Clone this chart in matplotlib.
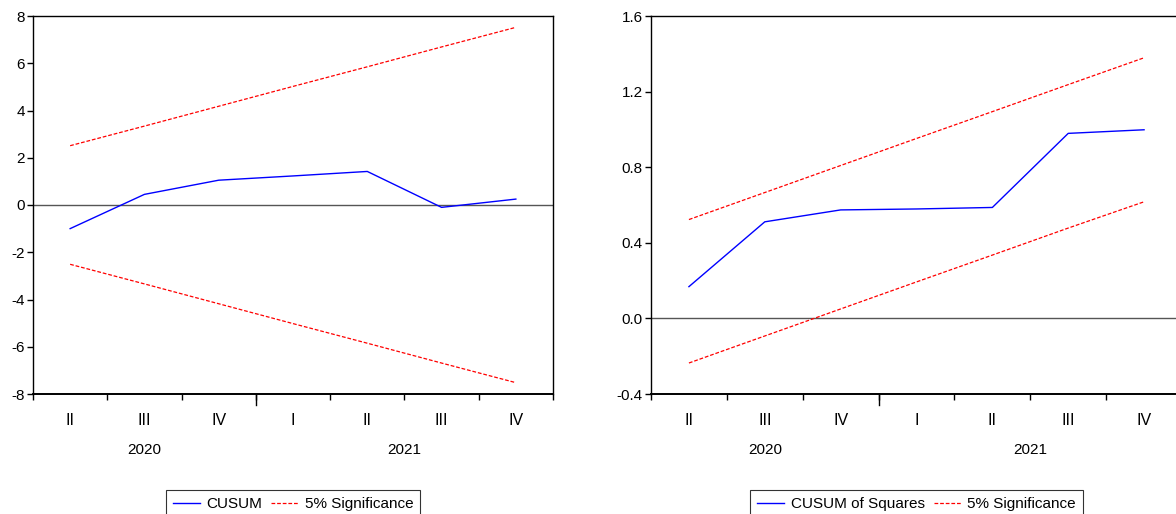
import matplotlib
matplotlib.use("Agg")
import matplotlib.pyplot as plt
import matplotlib.transforms as mtransforms

quarters = ["II", "III", "IV", "I", "II", "III", "IV"]
years = ["2020", "2021"]

cusum = [-1.00, 0.45, 1.05, 1.23, 1.42, -0.10, 0.25]
cusum_upper = [2.51, 3.34, 4.18, 5.02, 5.85, 6.69, 7.52]
cusum_lower = [-2.51, -3.34, -4.18, -5.02, -5.85, -6.69, -7.52]

cusumsq = [0.168, 0.511, 0.574, 0.579, 0.587, 0.979, 0.998]
cusumsq_upper = [0.523, 0.666, 0.809, 0.952, 1.094, 1.237, 1.379]
cusumsq_lower = [-0.236, -0.093, 0.050, 0.193, 0.335, 0.478, 0.617]

plt.rcParams["font.family"] = ["Liberation Sans", "DejaVu Sans"]
plt.rcParams["font.size"] = 11

W, H = 1176, 514
fig = plt.figure(figsize=(W / 100, H / 100), dpi=100)


def draw_panel(ax, series, upper, lower, label, ylim, yticks, yfmt):
    x = list(range(len(series)))
    ax.axhline(0, color="#555555", lw=1.0, zorder=1)
    l1, = ax.plot(x, series, color="#0000ff", lw=1.0, label=label, zorder=3)
    l2, = ax.plot(x, upper, color="#ff0000", lw=0.9, ls=(0, (3, 1.5)),
                  label="5% Significance", zorder=2)
    ax.plot(x, lower, color="#ff0000", lw=0.9, ls=(0, (3, 1.5)), zorder=2)

    ax.set_xlim(-0.5, len(series) - 0.5)
    ax.set_ylim(*ylim)
    ax.set_yticks(yticks)
    ax.set_yticklabels([yfmt.format(v) for v in yticks])

    # boundary ticks (major, unlabelled) and centred quarter labels (minor)
    bounds = [i - 0.5 for i in range(len(series) + 1)]
    ax.set_xticks(bounds)
    ax.set_xticklabels([])
    ax.set_xticks(x, minor=True)
    ax.set_xticklabels(quarters, minor=True, fontsize=11.5)
    ax.tick_params(axis="x", which="major", direction="out", length=4,
                   width=1, color="black")
    ax.tick_params(axis="x", which="minor", length=0, pad=14)
    ax.tick_params(axis="y", direction="out", length=4, width=1, pad=2,
                   right=False)

    # longer tick at the year boundary
    trans = mtransforms.blended_transform_factory(ax.transData, ax.transAxes)
    ax.plot([2.5, 2.5], [0, -0.028], color="black", lw=1, transform=trans,
            clip_on=False)

    ax.text(1, -0.148, years[0], transform=trans, ha="center", va="center")
    ax.text(4.5, -0.148, years[1], transform=trans, ha="center", va="center")

    for s in ax.spines.values():
        s.set_linewidth(1.0)
        s.set_color("black")
    ax.spines["bottom"].set_linewidth(1.4)

    leg = ax.legend(handles=[l1, l2], loc="upper center",
                    bbox_to_anchor=(0.5, -0.235), ncol=2, frameon=True,
                    fancybox=False, edgecolor="black", handlelength=1.8,
                    handletextpad=0.4, columnspacing=0.6, borderpad=0.45,
                    fontsize=11)
    leg.get_frame().set_linewidth(0.8)


ax1 = fig.add_axes([33 / W, 1 - 394 / H, 520 / W, 378 / H])
draw_panel(ax1, cusum, cusum_upper, cusum_lower, "CUSUM",
           (-8, 8), [-8, -6, -4, -2, 0, 2, 4, 6, 8], "{:g}")

ax2 = fig.add_axes([651 / W, 1 - 394 / H, 531 / W, 378 / H])
draw_panel(ax2, cusumsq, cusumsq_upper, cusumsq_lower, "CUSUM of Squares",
           (-0.4, 1.6), [-0.4, 0.0, 0.4, 0.8, 1.2, 1.6], "{:.1f}")

fig.savefig("out.png", dpi=100)
